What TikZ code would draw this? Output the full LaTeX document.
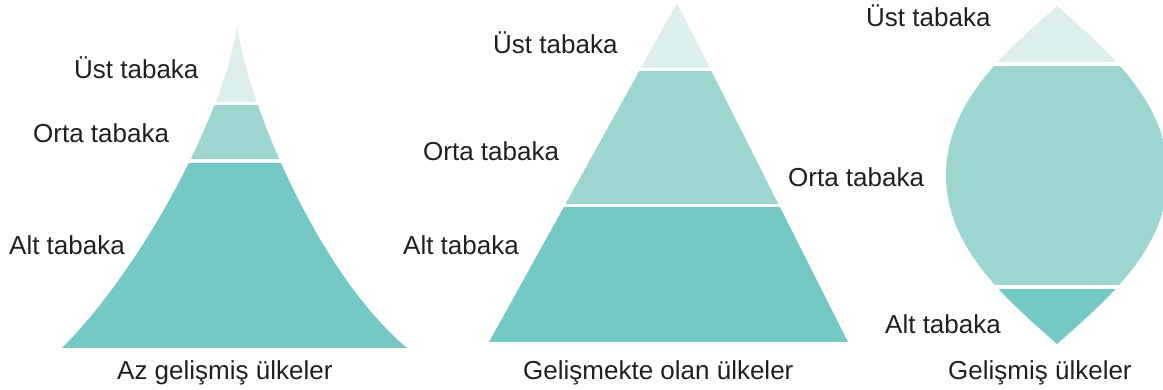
\documentclass[tikz,border=0pt]{standalone}
\usepackage{fontspec}
\setmainfont{Liberation Sans}
\definecolor{ustrenk}{HTML}{DCEFEC}
\definecolor{ortarenk}{HTML}{9DD6D1}
\definecolor{altrenk}{HTML}{74C9C4}
\definecolor{yazirenk}{HTML}{231F20}
\begin{document}
\begin{tikzpicture}[x=1pt,y=-1pt,
    etiket/.style={anchor=base west,inner sep=0pt,text=yazirenk,
      font=\fontsize{26}{30}\selectfont},
    katust/.style={fill=ustrenk},
    katorta/.style={fill=ortarenk},
    katalt/.style={fill=altrenk}]
  \useasboundingbox (0,0) rectangle (1163,390);
  % az gelismis
  \begin{scope}
    \clip (237,27) .. controls (225,110) and (145,265) .. (62,348)
      -- (407,348) .. controls (320,275) and (250,110) .. (237,27) -- cycle;
    \fill[katust] (50,20) rectangle (420,102);
    \fill[katorta] (50,105) rectangle (420,159);
    \fill[katalt] (50,163) rectangle (420,348);
  \end{scope}
  % gelismekte olan
  \begin{scope}
    \clip (677,3) -- (489,342) -- (848,342) -- cycle;
    \fill[katust] (480,0) rectangle (860,68);
    \fill[katorta] (480,71) rectangle (860,204);
    \fill[katalt] (480,207) rectangle (860,342);
  \end{scope}
  % gelismis
  \begin{scope}
    \clip (1057,6) .. controls (1010,48) and (946,100) .. (946,175)
      .. controls (946,250) and (1010,302) .. (1057,344)
      .. controls (1104,302) and (1168,250) .. (1168,175)
      .. controls (1168,100) and (1104,48) .. (1057,6) -- cycle;
    \fill[katust] (930,0) rectangle (1180,62);
    \fill[katorta] (930,66) rectangle (1180,285);
    \fill[katalt] (930,289) rectangle (1180,350);
  \end{scope}
  \node[etiket] (u1) at (74,79) {Üst tabaka};
  \node[etiket] (o1) at (33,143) {Orta tabaka};
  \node[etiket] (a1) at (9,255) {Alt tabaka};
  \node[etiket] (t1) at (117,379) {Az gelişmiş ülkeler};
  \node[etiket] (u2) at (493,54) {Üst tabaka};
  \node[etiket] (o2) at (423,161) {Orta tabaka};
  \node[etiket] (a2) at (403,255) {Alt tabaka};
  \node[etiket] (t2) at (523,379) {Gelişmekte olan ülkeler};
  \node[etiket] (u3) at (866,27) {Üst tabaka};
  \node[etiket] (o3) at (788,187) {Orta tabaka};
  \node[etiket] (a3) at (885,334) {Alt tabaka};
  \node[etiket] (t3) at (948,379) {Gelişmiş ülkeler};
\end{tikzpicture}
\end{document}
